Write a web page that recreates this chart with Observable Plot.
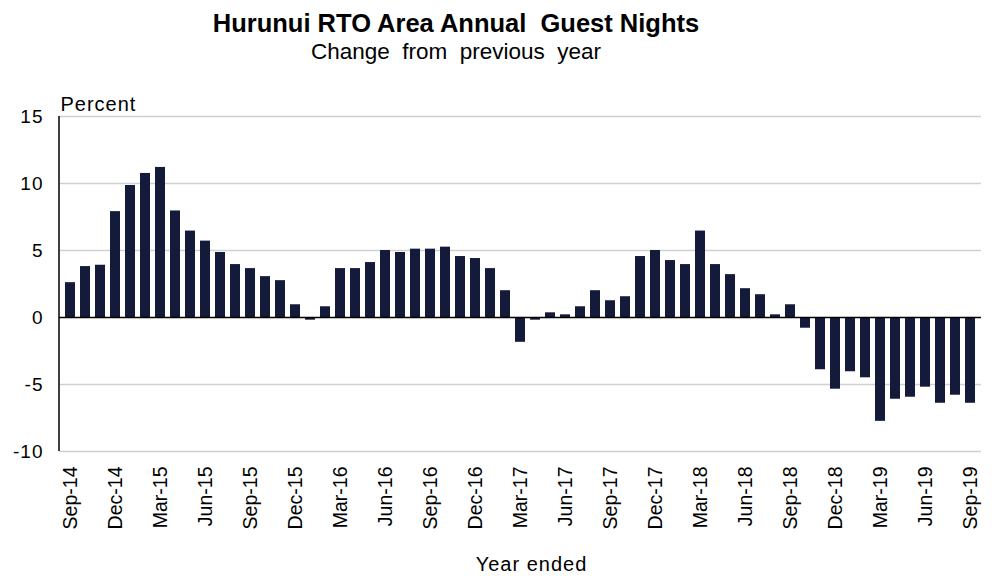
<!DOCTYPE html>
<html>
<head>
<meta charset="utf-8">
<script src="https://cdn.jsdelivr.net/npm/d3@7"></script>
<script src="https://cdn.jsdelivr.net/npm/@observablehq/plot@0.6"></script>
<style>
  html, body { margin: 0; padding: 0; background: #fff; }
  body { width: 999px; height: 576px; overflow: hidden; font-family: "Liberation Sans", Arial, sans-serif; color: #000; }
  #header { width: 912px; height: 65px; padding-top: 8px; box-sizing: border-box; text-align: center; }
  #title { font-size: 25.5px; font-weight: bold; line-height: 30px; white-space: pre; }
  #subtitle { font-size: 22.5px; line-height: 27px; white-space: pre; }
  #chart { height: 511px; }
  #chart svg { display: block; }
</style>
</head>
<body>
<div id="header"><div id="title">Hurunui RTO Area Annual  Guest Nights</div><div id="subtitle">Change  from  previous  year</div></div>
<div id="chart"></div>
<script>
const months = [
  "Sep-14","Oct-14","Nov-14","Dec-14","Jan-15","Feb-15","Mar-15","Apr-15","May-15","Jun-15","Jul-15","Aug-15",
  "Sep-15","Oct-15","Nov-15","Dec-15","Jan-16","Feb-16","Mar-16","Apr-16","May-16","Jun-16","Jul-16","Aug-16",
  "Sep-16","Oct-16","Nov-16","Dec-16","Jan-17","Feb-17","Mar-17","Apr-17","May-17","Jun-17","Jul-17","Aug-17",
  "Sep-17","Oct-17","Nov-17","Dec-17","Jan-18","Feb-18","Mar-18","Apr-18","May-18","Jun-18","Jul-18","Aug-18",
  "Sep-18","Oct-18","Nov-18","Dec-18","Jan-19","Feb-19","Mar-19","Apr-19","May-19","Jun-19","Jul-19","Aug-19",
  "Sep-19"
];
const changePct = [
  2.6, 3.8, 3.9, 7.9, 9.85, 10.75, 11.2, 7.95, 6.45, 5.7, 4.85, 3.95,
  3.65, 3.05, 2.75, 0.95, -0.2, 0.8, 3.65, 3.65, 4.1, 5.0, 4.85, 5.1,
  5.1, 5.25, 4.55, 4.4, 3.65, 2.0, -1.85, -0.2, 0.35, 0.2, 0.8, 2.0,
  1.25, 1.55, 4.55, 5.0, 4.25, 3.95, 6.45, 3.95, 3.2, 2.15, 1.7, 0.2,
  0.95, -0.8, -3.9, -5.35, -4.05, -4.5, -7.75, -6.1, -5.95, -5.2, -6.4, -5.8,
  -6.4
];
const xTickLabels = ["Sep-14","Dec-14","Mar-15","Jun-15","Sep-15","Dec-15","Mar-16","Jun-16","Sep-16","Dec-16",
  "Mar-17","Jun-17","Sep-17","Dec-17","Mar-18","Jun-18","Sep-18","Dec-18","Mar-19","Jun-19","Sep-19"];
const yTicks = [-10, -5, 0, 5, 10, 15];
const gridValues = [-10, -5, 5, 10, 15];

const data = months.map((m, i) => ({month: m, value: changePct[i]}));

function leftAxisLine(index, scales, values, dims) {
  const line = document.createElementNS("http://www.w3.org/2000/svg", "line");
  const x = dims.marginLeft;
  line.setAttribute("x1", x);
  line.setAttribute("x2", x);
  line.setAttribute("y1", scales.y(d3.max(yTicks)));
  line.setAttribute("y2", scales.y(d3.min(yTicks)));
  line.setAttribute("stroke", "#000");
  line.setAttribute("stroke-width", 1.5);
  return line;
}

const chart = Plot.plot({
  width: 999,
  height: 511,
  marginLeft: 59,
  marginRight: 18,
  marginTop: 51,
  marginBottom: 125,
  style: {fontFamily: "'Liberation Sans', Arial, sans-serif", fontSize: "19px", color: "#000", background: "#fff", overflow: "visible"},
  x: {domain: months, paddingInner: 0.34, paddingOuter: 0.2},
  y: {domain: [-10, 15]},
  marks: [
    Plot.ruleY(gridValues, {stroke: "#d0d0d0", strokeWidth: 1.6}),
    Plot.barY(data, {x: "month", y: "value", fill: "#141a3a"}),
    Plot.ruleY([0], {stroke: "#000", strokeWidth: 1.4}),
    leftAxisLine,
    Plot.axisY({ticks: yTicks, tickSize: 0, tickPadding: 16, tickFormat: d => String(d), label: null, fontSize: 19}),
    Plot.axisX({ticks: xTickLabels, tickRotate: -90, tickSize: 0, tickPadding: 15, label: null, fontSize: 19.5}),
    Plot.text(["Percent"], {frameAnchor: "top-left", textAnchor: "start", lineAnchor: "bottom", dx: 1, dy: -6, fontSize: 20}),
    Plot.text(["Year ended"], {frameAnchor: "bottom", lineAnchor: "bottom", dx: 11, dy: 119, fontSize: 20})
  ]
});
chart.querySelectorAll('g[aria-label="y-axis tick label"] text, g[aria-label="text"] text')
  .forEach(t => t.setAttribute("letter-spacing", "1px"));
document.getElementById("chart").appendChild(chart);
</script>
</body>
</html>
